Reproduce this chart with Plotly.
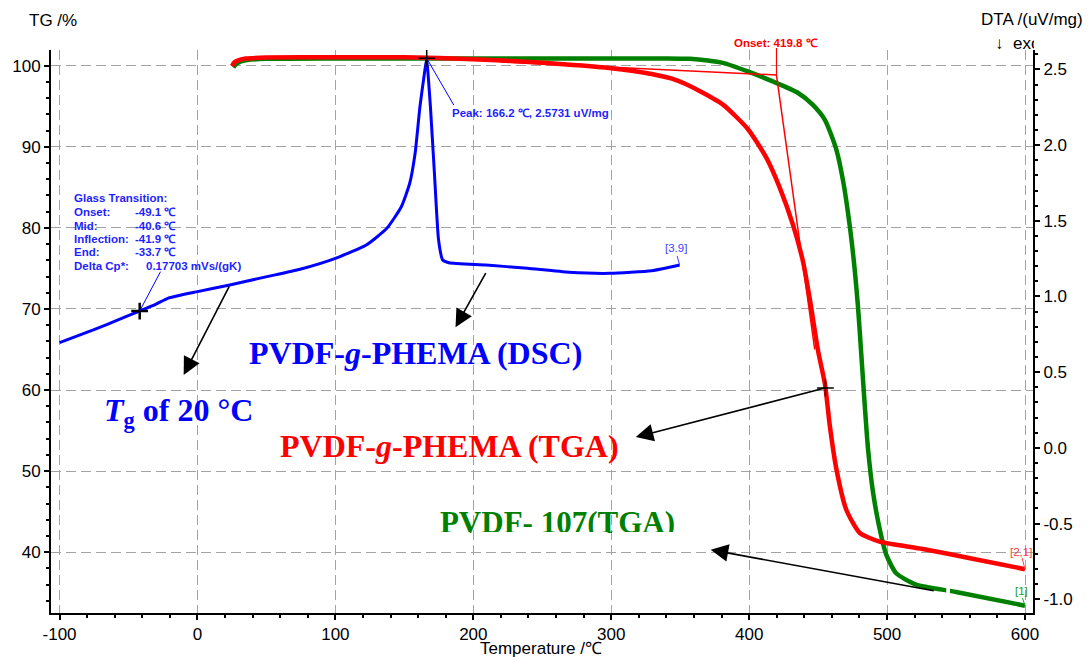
import numpy as np
import plotly.graph_objects as go

# DSC of PVDF-g-PHEMA (right axis, uV/mg)
dsc_temp = [-100, -75.5, -55, -41.6, -30, -21.5, 0, 23.4, 50.4, 74.4, 100, 122.4, 137.3,
            147.8, 153.9, 157.8, 161.3, 164.5, 166.2, 167.5, 168.9, 171.8, 174.8, 177.8,
            182.3, 209.3, 239.2, 269.3, 299.1, 329.3, 349.6]
dsc_dta = [0.695, 0.779, 0.855, 0.905, 0.950, 0.988, 1.032, 1.076, 1.131, 1.180, 1.252, 1.340, 1.450,
           1.593, 1.748, 1.946, 2.254, 2.47, 2.5731, 2.43, 2.254, 1.814, 1.373, 1.241,
           1.223, 1.208, 1.186, 1.160, 1.153, 1.170, 1.208]

# TGA of PVDF-g-PHEMA (left axis, %)
tga_graft_temp = [25, 27, 30, 35, 50, 100, 150, 200, 250, 300, 322, 344, 357, 365, 381, 399,
                  412.6, 422.3, 431.9, 439.1, 444, 450, 455, 458.4, 463.3, 470.5, 480.1,
                  494.6, 525.9, 562, 600]
tga_graft_mass = [99.95, 100.45, 100.7, 100.9, 101.0, 101.05, 101.05, 100.8, 100.37, 99.7, 99.2,
                  98.4, 97.5, 96.8, 95.2, 92.2, 88.6, 84.9, 80.3, 75.8, 71.2, 64.8, 60.7, 55.7,
                  50.2, 45.2, 42.4, 41.3, 40.4, 39.2, 37.9]

# TGA of PVDF-107 (left axis, %)
tga_pvdf_temp = [26, 28, 31, 36, 50, 100, 200, 300, 340, 357, 370, 381, 399, 418, 435, 446,
                 455, 463.3, 468.1, 472.9, 476.5, 478.9, 481.3, 483.7, 486.1, 489.8, 494.6,
                 499.4, 506.6, 521.1, 550, 600]
tga_pvdf_mass = [99.8, 100.2, 100.5, 100.7, 100.85, 100.9, 100.9, 100.9, 100.9, 100.85, 100.65,
                 100.35, 99.3, 98.0, 96.7, 95.2, 93.3, 89.6, 85.8, 80.3, 74.9, 70.3, 64.4,
                 58.4, 52.9, 47.4, 42.9, 39.7, 37.4, 36.0, 35.1, 33.4]

temp_ticks = [-100, 0, 100, 200, 300, 400, 500, 600]
tg_ticks = [40, 50, 60, 70, 80, 90, 100]
dta_ticks = [-1.0, -0.5, 0.0, 0.5, 1.0, 1.5, 2.0, 2.5]

# evaluation results
peak_temp, peak_dta = 166.2, 2.5731
onset_temp, onset_mass = 419.8, 98.85
tg_inflection = -41.9
glass_rows = [("Onset:", -49.1), ("Mid:", -40.6), ("Inflection:", -41.9), ("End:", -33.7)]
delta_cp = 0.17703
tg_celsius = 20

BLUE = "#0000ff"
TXT_BLUE = "#1f1fff"
RED = "#ff0000"
GREEN = "#008000"
SANS = "Liberation Sans, Arial, Helvetica, sans-serif"
SERIF = "Liberation Serif, Times New Roman, serif"

X_RANGE = [-106.2, 605.8]
TG_RANGE = [32.5, 101.94]
DTA_RANGE = [-1.0905, 2.628]


def tg_paper(v):
    return (v - TG_RANGE[0]) / (TG_RANGE[1] - TG_RANGE[0])


fig = go.Figure()

smooth = dict(shape="spline", smoothing=0.6)
fig.add_trace(go.Scatter(x=tga_pvdf_temp, y=tga_pvdf_mass, mode="lines",
                         line=dict(color=GREEN, width=4.5, **smooth)))
fig.add_trace(go.Scatter(x=tga_graft_temp, y=tga_graft_mass, mode="lines",
                         line=dict(color=RED, width=4.5, **smooth)))
fig.add_trace(go.Scatter(x=dsc_temp, y=dsc_dta, yaxis="y2", mode="lines",
                         line=dict(color=BLUE, width=3, shape="spline", smoothing=0.5)))

# evaluation markers
tg_point = float(np.interp(tg_inflection, dsc_temp, dsc_dta))
fig.add_trace(go.Scatter(x=[tg_inflection], y=[tg_point], yaxis="y2", mode="markers",
                         marker=dict(symbol="cross-thin", size=12,
                                     line=dict(color="black", width=2.5))))
fig.add_trace(go.Scatter(x=[peak_temp], y=[peak_dta], yaxis="y2", mode="markers",
                         marker=dict(symbol="cross-thin", size=12,
                                     line=dict(color="black", width=1.5))))
mark_temp = 455.3
mark_mass = float(np.interp(mark_temp, tga_graft_temp, tga_graft_mass))
fig.add_trace(go.Scatter(x=[mark_temp], y=[mark_mass], mode="markers",
                         marker=dict(symbol="cross-thin", size=12,
                                     line=dict(color="black", width=1.5))))

# PVDF-107 label and the exo hint, drawn as text traces so white strips can trim them
fig.add_trace(go.Scatter(x=[261.0], y=[43.29], mode="text", text=["<b>PVDF- 107(TGA)</b>"],
                         textposition="middle center", cliponaxis=False, hoverinfo="skip",
                         textfont=dict(family=SERIF, size=31, color=GREEN)))
fig.add_trace(go.Scatter(x=[578.3], y=[101.5], mode="text", text=["↓  exo"],
                         textposition="top right", cliponaxis=False, hoverinfo="skip",
                         textfont=dict(family=SANS, size=17, color="black")))

shapes = []
# onset construction: baseline tangent, inflection tangent and marker line
slope = -1.22
shapes.append(dict(type="line", xref="x", yref="y", x0=220, y0=100.46,
                   x1=onset_temp, y1=onset_mass, line=dict(color=RED, width=1.5)))
shapes.append(dict(type="line", xref="x", yref="y", x0=onset_temp, y0=onset_mass,
                   x1=onset_temp + (65 - onset_mass) / slope, y1=65,
                   line=dict(color=RED, width=1.5)))
shapes.append(dict(type="line", xref="x", yref="paper", x0=onset_temp, y0=tg_paper(onset_mass),
                   x1=onset_temp, y1=1.0036, line=dict(color=RED, width=1.2)))
# leader lines
shapes.append(dict(type="line", xref="x", yref="y2", x0=-26.8, y0=1.164,
                   x1=tg_inflection, y1=tg_point, line=dict(color=BLUE, width=1)))
shapes.append(dict(type="line", xref="x", yref="y2", x0=peak_temp, y0=peak_dta,
                   x1=185.8, y1=2.265, line=dict(color=BLUE, width=1)))
shapes.append(dict(type="line", xref="x", yref="y2", x0=347.8, y0=1.267,
                   x1=dsc_temp[-1], y1=dsc_dta[-1], line=dict(color="#4040ff", width=1)))
shapes.append(dict(type="line", xref="x", yref="y", x0=597.9, y0=39.28,
                   x1=tga_graft_temp[-1], y1=tga_graft_mass[-1], line=dict(color="#ff4040", width=1)))
shapes.append(dict(type="line", xref="x", yref="y", x0=598.2, y0=34.34,
                   x1=tga_pvdf_temp[-1], y1=tga_pvdf_mass[-1], line=dict(color="#20a020", width=1)))
# white strips: lower edge of the PVDF-107 label (gridlines left visible), the clipped
# end of "exo", and a small break in the PVDF-107 curve
white = dict(type="rect", layer="above", fillcolor="white", line=dict(width=0))
for x0, x1 in [(172.0, 197.4), (200.6, 297.4), (300.6, 365.0)]:
    shapes.append(dict(white, xref="x", yref="y", x0=x0, x1=x1, y0=40.76, y1=42.49))
shapes.append(dict(white, xref="paper", yref="paper", x0=1.001, x1=1.025, y0=1.0018, y1=1.034))
shapes.append(dict(white, xref="x", yref="y", x0=542.9, x1=545.6, y0=34.4, y1=36.1))

ann = []
small = dict(family=SANS, size=11.5, color=TXT_BLUE)
ann.append(dict(xref="x", yref="y2", x=-91.0, y=1.651, text="<b>Glass Transition:</b>",
                xanchor="left", yanchor="middle", showarrow=False, font=small))
row_y = [1.558, 1.466, 1.380, 1.294]
for (label, val), yy in zip(glass_rows, row_y):
    ann.append(dict(xref="x", yref="y2", x=-91.0, y=yy, text=f"<b>{label}</b>",
                    xanchor="left", yanchor="middle", showarrow=False, font=small))
    ann.append(dict(xref="x", yref="y2", x=-46.5, y=yy, text=f"<b>{val:.1f} ℃</b>",
                    xanchor="left", yanchor="middle", showarrow=False, font=small))
ann.append(dict(xref="x", yref="y2", x=-91.0, y=1.201, text="<b>Delta Cp*:</b>",
                xanchor="left", yanchor="middle", showarrow=False, font=small))
ann.append(dict(xref="x", yref="y2", x=-38.5, y=1.201, text=f"<b>{delta_cp:.5f} mVs/(gK)</b>",
                xanchor="left", yanchor="middle", showarrow=False, font=small))
ann.append(dict(xref="x", yref="y2", x=183.2, y=2.212,
                text=f"<b>Peak: {peak_temp:.1f} ℃, {peak_dta:.4f} uV/mg</b>",
                xanchor="left", yanchor="middle", showarrow=False, font=small))
ann.append(dict(xref="x", yref="paper", x=onset_temp, y=1.0124,
                text=f"<b>Onset: {onset_temp:.1f} ℃</b>", xanchor="center", yanchor="middle",
                showarrow=False, font=dict(family=SANS, size=11.5, color=RED)))
ann.append(dict(xref="x", yref="y2", x=346.8, y=1.320, text="[3.9]", showarrow=False,
                font=dict(family=SANS, size=11.5, color="#4040ff")))
ann.append(dict(xref="x", yref="y", x=596.8, y=40.02, text="[2,1]", showarrow=False,
                font=dict(family=SANS, size=11.5, color="#ff4040")))
ann.append(dict(xref="x", yref="y", x=597.1, y=35.2, text="[1]", showarrow=False,
                font=dict(family=SANS, size=11.5, color="#20a020")))

# sample labels
big = 32
ann.append(dict(xref="x", yref="y", x=158.3, y=64.63,
                text="<b>PVDF-<i>g</i>-PHEMA (DSC)</b>", showarrow=False,
                font=dict(family=SERIF, size=big, color=BLUE)))
ann.append(dict(xref="x", yref="y", x=-69.3, y=57.2,
                text=f"<b><i>T</i><sub>g</sub> of {tg_celsius} °C</b>", xanchor="left",
                showarrow=False, font=dict(family=SERIF, size=big, color=BLUE)))
ann.append(dict(xref="x", yref="y", x=182.9, y=53.1,
                text="<b>PVDF-<i>g</i>-PHEMA (TGA)</b>", showarrow=False,
                font=dict(family=SERIF, size=big, color=RED)))

# axis titles
ann.append(dict(xref="paper", yref="paper", x=-0.0244, y=1.053, text="TG /%",
                xanchor="left", yanchor="middle", showarrow=False,
                font=dict(family=SANS, size=17, color="black")))
ann.append(dict(xref="paper", yref="paper", x=1.0528, y=1.0535, text="DTA /(uV/mg)",
                xanchor="right", yanchor="middle", showarrow=False,
                font=dict(family=SANS, size=17, color="black")))
ann.append(dict(xref="paper", yref="paper", x=0.499, y=-0.0639, text="Temperature /℃",
                xanchor="center", yanchor="middle", showarrow=False,
                font=dict(family=SANS, size=17, color="black")))

# arrows
arrow = dict(showarrow=True, text="", arrowhead=2, arrowsize=2.2, arrowwidth=1.6,
             arrowcolor="black", xref="x", axref="x")
ann.append(dict(arrow, x=187.1, y=0.797, yref="y2", ax=209.6, ay=1.164, ayref="y2"))
ann.append(dict(arrow, x=-10.0, y=0.4815, yref="y2", ax=23.6, ay=1.076, ayref="y2"))
ann.append(dict(arrow, x=317.8, y=54.2, yref="y", ax=mark_temp, ay=mark_mass, ayref="y"))
ann.append(dict(arrow, x=372.1, y=40.3, yref="y", ax=534.9, ay=35.2, ayref="y"))

axis_common = dict(showline=True, linecolor="black", linewidth=2, ticks="outside",
                   ticklen=5, tickwidth=1.5, tickcolor="black", zeroline=False,
                   tickfont=dict(family=SANS, size=17, color="black"))
grid = dict(showgrid=True, gridcolor="#a3a3a3", gridwidth=1, griddash="10px,5px")

fig.update_layout(
    width=1089, height=657, autosize=False,
    margin=dict(l=49, r=56, t=50, b=44),
    paper_bgcolor="white", plot_bgcolor="white",
    showlegend=False,
    shapes=shapes, annotations=ann,
    xaxis=dict(range=X_RANGE, tickmode="array", tickvals=temp_ticks,
               ticktext=[str(t) for t in temp_ticks],
               minor=dict(tickmode="linear", tick0=0, dtick=20, ticks="outside",
                          ticklen=3, tickcolor="black", showgrid=False),
               **axis_common, **grid),
    yaxis=dict(range=TG_RANGE, tickmode="array", tickvals=tg_ticks,
               ticktext=[str(t) for t in tg_ticks],
               minor=dict(tickmode="linear", tick0=0, dtick=2, ticks="outside",
                          ticklen=3, tickcolor="black", showgrid=False),
               **axis_common, **grid),
    yaxis2=dict(range=DTA_RANGE, overlaying="y", side="right", showgrid=False,
                tickmode="array", tickvals=dta_ticks,
                ticktext=[f"{t:.1f}" for t in dta_ticks],
                minor=dict(tickmode="linear", tick0=0, dtick=0.1, ticks="outside",
                           ticklen=3, tickcolor="black", showgrid=False),
                **axis_common),
)

fig.write_html("out.html")
